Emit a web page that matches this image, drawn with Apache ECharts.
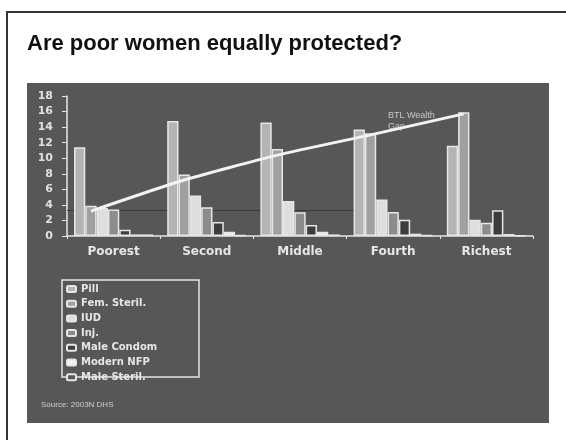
<!DOCTYPE html>
<html><head><meta charset="utf-8">
<script src="https://cdn.jsdelivr.net/npm/echarts@6/dist/echarts.min.js"></script>
<style>html,body{margin:0;padding:0;background:#fff}#c{width:566px;height:440px}</style>
</head><body><div id="c"></div>
<script>
const categories = ['Poorest', 'Second', 'Middle', 'Fourth', 'Richest'];
const pill       = [11.4, 14.8, 14.6, 13.7, 11.6];
const femSteril  = [3.9, 7.9, 11.2, 13.2, 15.9];
const iud        = [3.6, 5.2, 4.5, 4.7, 2.1];
const inj        = [3.4, 3.7, 3.05, 3.1, 1.7];
const maleCondom = [0.8, 1.8, 1.4, 2.1, 3.3];
const modernNFP  = [0.2, 0.55, 0.55, 0.3, 0.25];
const maleSteril = [0.2, 0.1, 0.2, 0.1, 0.05];
const btlWealthGap = [3.2, 7.2, 10.4, 13.0, 15.7];
const refLevel = 3.3;
const refSpanCategories = [0, 3.08];
const yTicks = [0, 2, 4, 6, 8, 10, 12, 14, 16, 18];

const seriesDefs = [
  ['Pill', pill, '#b4b4b4'],
  ['Fem. Steril.', femSteril, '#a0a0a0'],
  ['IUD', iud, '#dedede'],
  ['Inj.', inj, '#8c8c8c'],
  ['Male Condom', maleCondom, '#3c3c3c'],
  ['Modern NFP', modernNFP, '#f2f2f2'],
  ['Male Steril.', maleSteril, '#575757']
];
const catGapFrac = 0.15;
const barW = (1 - catGapFrac) / seriesDefs.length;
const femOffset = catGapFrac / 2 + 1.5 * barW;

const chart = echarts.init(document.getElementById('c'), null, {renderer: 'canvas'});
const series = [{
  name: 'ref', type: 'line', xAxisIndex: 1, data: [], z: 1, silent: true,
  markLine: {
    silent: true, symbol: 'none', label: {show: false}, z: 1,
    lineStyle: {color: '#3a3a3a', width: 1, type: 'solid'},
    data: [[{coord: [refSpanCategories[0], refLevel]}, {coord: [refSpanCategories[1], refLevel]}]]
  }
}];
seriesDefs.forEach(([name, data, color]) => series.push({
  name, type: 'bar', data, barGap: '0%', barCategoryGap: (catGapFrac * 100) + '%',
  itemStyle: {color, borderColor: '#e6e6e6', borderWidth: 1.5},
  emphasis: {disabled: true}, z: 2
}));
series.push({
  name: 'BTL Wealth Gap', type: 'line', xAxisIndex: 1,
  data: btlWealthGap.map((v, i) => [i + femOffset, v]),
  symbol: 'none', smooth: 0.2,
  lineStyle: {color: '#f2f2f2', width: 3}, z: 5
});

chart.setOption({
  animation: false,
  backgroundColor: '#ffffff',
  graphic: [
    {type: 'rect', z: -10, shape: {x: 7, y: 12, width: 620, height: 500}, style: {fill: '#fff', stroke: '#333', lineWidth: 2}},
    {type: 'rect', z: -9, shape: {x: 27, y: 83, width: 522, height: 340}, style: {fill: '#575757'}},
    {type: 'text', z: -8, x: 27, y: 44, style: {text: 'Are poor women equally protected?', font: 'bold 22px "Liberation Sans"', fill: '#111', textVerticalAlign: 'middle'}},
    {type: 'text', z: -8, x: 41, y: 405, style: {text: 'Source: 2003N DHS', font: '8px "Liberation Sans"', fill: '#d0d0d0', textVerticalAlign: 'middle'}},
    {type: 'text', z: -8, x: 388, y: 121, style: {text: 'BTL Wealth\nGap', font: '9px "Liberation Sans"', fill: '#c8c8c8', lineHeight: 11, textVerticalAlign: 'middle'}},
    {type: 'rect', z: -8, shape: {x: 62, y: 280, width: 137, height: 97}, style: {fill: 'none', stroke: '#e6e6e6', lineWidth: 1.5}}
  ],
  legend: {
    data: seriesDefs.map(d => d[0]),
    orient: 'vertical', left: 66, top: 283,
    itemWidth: 9, itemHeight: 6, itemGap: 2.7,
    textStyle: {color: '#e6e6e6', fontFamily: 'DejaVu Sans', fontWeight: 'bold', fontSize: 10, lineHeight: 12},
    selectedMode: false, padding: 0
  },
  grid: {left: 67, right: 33, top: 96, bottom: 204, containLabel: false},
  xAxis: [
    {type: 'category', data: categories,
      axisLine: {lineStyle: {color: '#e6e6e6', width: 1.5}},
      axisTick: {show: true, length: 3, lineStyle: {color: '#e6e6e6'}},
      axisLabel: {color: '#e6e6e6', fontFamily: 'DejaVu Sans', fontWeight: 'bold', fontSize: 12, margin: 10}},
    {type: 'value', min: 0, max: categories.length, show: false}
  ],
  yAxis: {
    type: 'value', min: yTicks[0], max: yTicks[yTicks.length - 1], interval: yTicks[1] - yTicks[0],
    axisLine: {show: true, lineStyle: {color: '#e6e6e6', width: 1.5}},
    axisTick: {show: true, length: 5, lineStyle: {color: '#e6e6e6'}},
    splitLine: {show: false},
    axisLabel: {color: '#e0e0e0', fontFamily: 'DejaVu Sans', fontWeight: 'bold', fontSize: 11, margin: 14}
  },
  series
});
</script></body></html>
